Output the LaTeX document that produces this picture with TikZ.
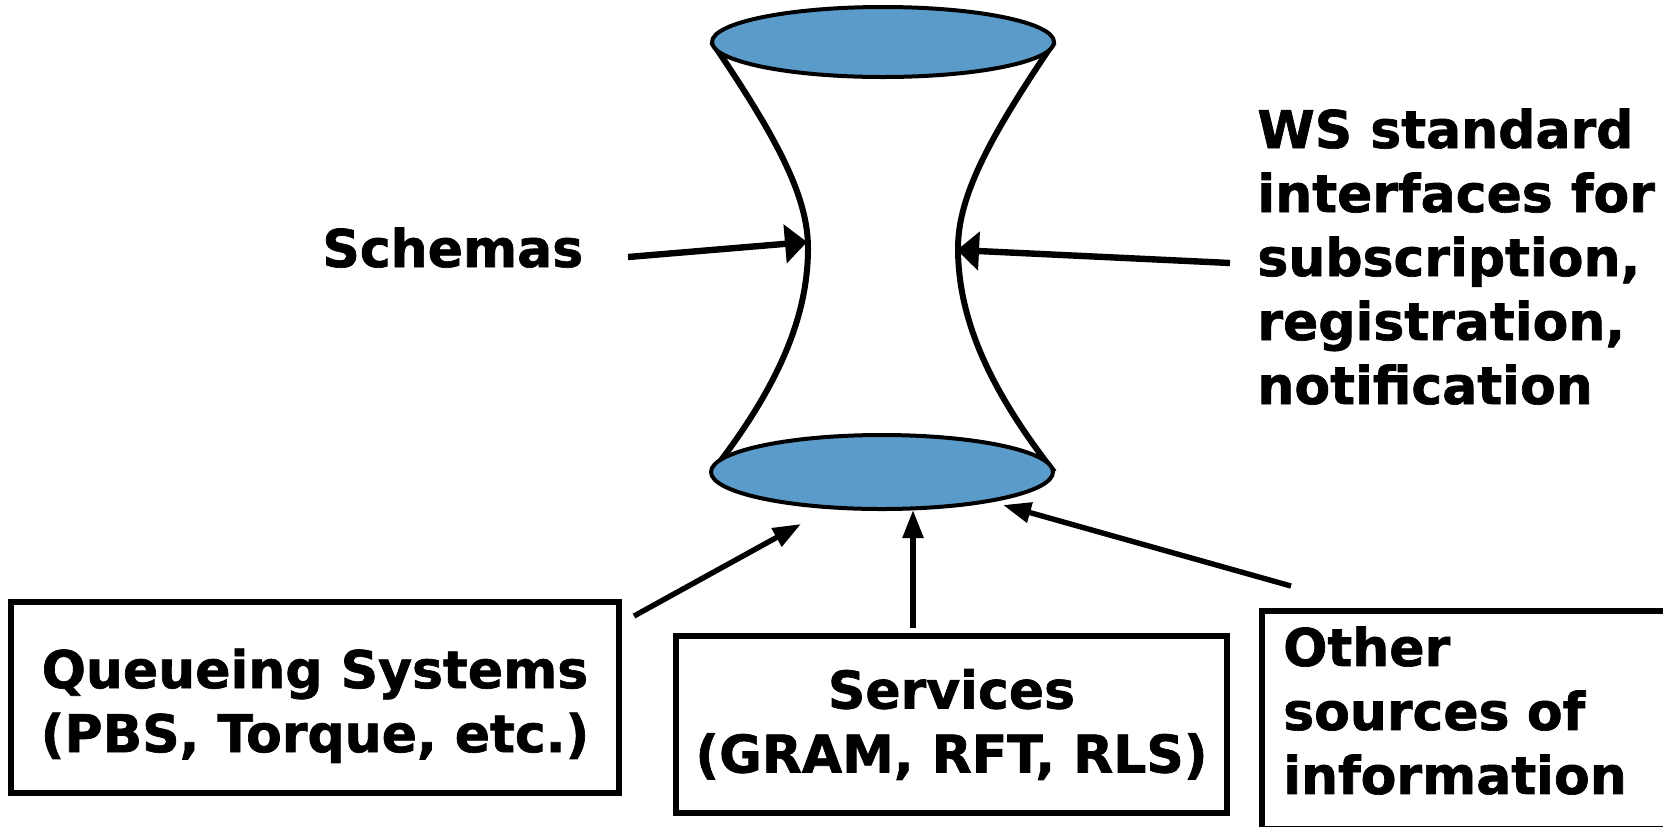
\documentclass[tikz,border=0pt]{standalone}
\usepackage{fontspec}
\setmainfont{DejaVu Sans}[BoldFeatures={FakeBold=1.3}]
\usetikzlibrary{arrows.meta,shapes.geometric}
\definecolor{discblue}{RGB}{91,155,201}
\begin{document}
\begin{tikzpicture}[x=0.5pt,y=-0.5pt,
  lbl/.style={font=\bfseries\fontsize{26}{32}\selectfont, inner sep=0pt},
  box/.style={draw, line width=3.2pt, lbl, align=center},
  bigarrow/.style={line width=3.2pt, -{Triangle[length=11pt,width=19pt]}},
  smallarrow/.style={line width=2.7pt, -{Triangle[length=14pt,width=10pt]}},
  neck/.style={line width=3pt},
  disc/.style={ellipse, draw, line width=2pt, fill=discblue, inner sep=0pt, minimum width=171pt}]
\useasboundingbox (0,0) rectangle (1663,826);
\clip (0,0) rectangle (1663,826);

% hourglass sides
\draw[neck] (712,42) .. controls (775,135) and (808,195) .. (808,248)
            .. controls (808,315) and (780,385) .. (712,472);
\draw[neck] (1054,42) .. controls (991,135) and (958,195) .. (958,248)
            .. controls (958,315) and (986,385) .. (1054,472);

% top and bottom discs
\node[disc, minimum height=35pt] (topdisc) at (883,42) {};
\node[disc, minimum height=37pt] (botdisc) at (882,472) {};

% labels
\node[lbl, anchor=base west] (schemas) at (322,267) {Schemas};
\node[lbl, anchor=base west, align=left] (ws) at (1257,404)
  {WS standard\\interfaces for\\subscription,\\registration,\\notification};

% source boxes (struts balance the text inside each frame)
\node[box, minimum width=304pt, minimum height=95.5pt] (queue) at (315,697.5)
  {\rule{0pt}{28pt}Queueing Systems\\(PBS, Torque, etc.)};
\node[box, minimum width=275.5pt, minimum height=88.5pt] (serv) at (951.5,724.5)
  {Services\\(GRAM, RFT, RLS)};
\node[box, align=left, anchor=north west, inner xsep=10.5pt, text width=200pt,
      minimum height=109pt] (other) at (1259,608)
  {Other\\sources of\\information\rule[-10pt]{0pt}{0pt}};

% arrow end points
\coordinate (schemasfrom) at (628,257);
\coordinate (schemasto)   at (807,242);
\coordinate (wsfrom)      at (1230,263);
\coordinate (wsto)        at (957,250);
\coordinate (queuefrom)   at (634,616);
\coordinate (queueto)     at (801,524);
\coordinate (servfrom)    at (913,628);
\coordinate (servto)      at (913,510);
\coordinate (otherfrom)   at (1291,586);
\coordinate (otherto)     at (1003,505);

% connectors
\draw[bigarrow] (schemasfrom) -- (schemasto);
\draw[bigarrow] (wsfrom) -- (wsto);
\draw[smallarrow] (queuefrom) -- (queueto);
\draw[smallarrow] (servfrom) -- (servto);
\draw[smallarrow] (otherfrom) -- (otherto);
\end{tikzpicture}
\end{document}
